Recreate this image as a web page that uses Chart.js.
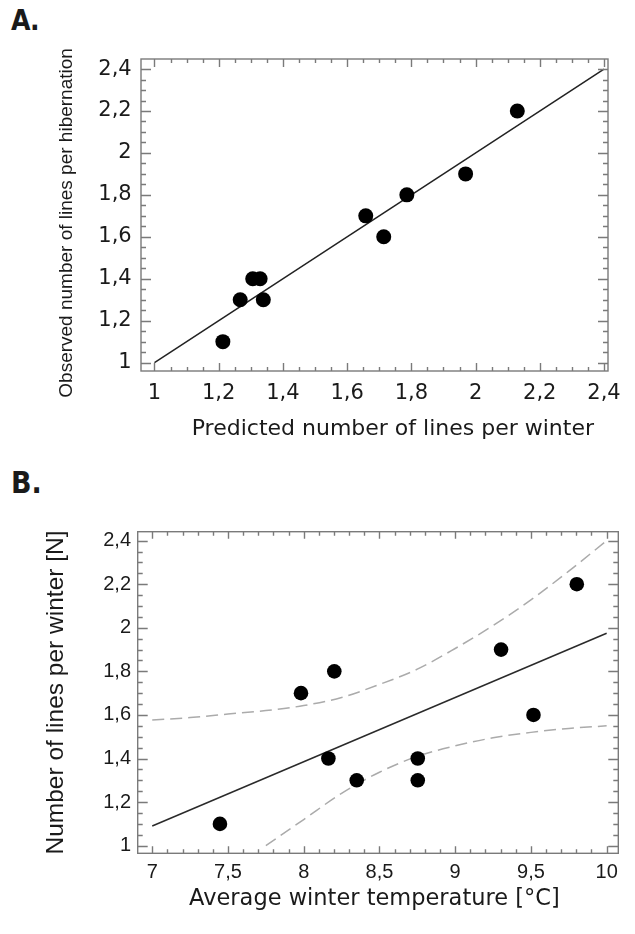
<!DOCTYPE html>
<html>
<head>
<meta charset="utf-8">
<script src="https://cdn.jsdelivr.net/npm/chart.js@4.4.0/dist/chart.umd.min.js"></script>
<style>
  body { margin: 0; background: #fff; width: 635px; height: 934px; position: relative; overflow: hidden; }
  .panel { position: absolute; left: 0; width: 635px; }
  .label { position: absolute; font-family: "DejaVu Sans Condensed", "DejaVu Sans", sans-serif; font-weight: bold; color: #1a1a1a; }
</style>
</head>
<body>
<div class="label" style="left:11px; top:6.7px; font-size:28px; line-height:28px; letter-spacing:-1px;">A.</div>
<div class="panel" style="top:0; height:440px;"><canvas id="chartA" width="635" height="440"></canvas></div>
<div class="label" style="left:11px; top:468px; font-size:30px; line-height:30px;">B.</div>
<div class="panel" style="top:440px; height:494px;"><canvas id="chartB" width="635" height="494"></canvas></div>
<script>
// panel A: predicted vs observed
const aX = [1.213, 1.267, 1.306, 1.329, 1.339, 1.658, 1.714, 1.786, 1.969, 2.13];
const aY = [1.1, 1.3, 1.4, 1.4, 1.3, 1.7, 1.6, 1.8, 1.9, 2.2];
const aFitX = [1, 2.4];
const aFitY = [1, 2.4];
const aTicks = [1, 1.2, 1.4, 1.6, 1.8, 2, 2.2, 2.4];
const aTickLabels = ["1", "1,2", "1,4", "1,6", "1,8", "2", "2,2", "2,4"];

// panel B: temperature vs lines
const bX = [7.447, 7.982, 8.202, 8.163, 8.35, 8.753, 8.753, 9.303, 9.517, 9.803];
const bY = [1.1, 1.7, 1.8, 1.4, 1.3, 1.4, 1.3, 1.9, 1.6, 2.2];
const bFitX = [7, 10];
const bFitY = [1.09, 1.975];
const bUpperX = [7, 7.25, 7.5, 7.75, 8, 8.25, 8.5, 8.75, 9, 9.25, 9.5, 9.75, 10];
const bUpperY = [1.577, 1.588, 1.604, 1.62, 1.643, 1.68, 1.74, 1.81, 1.905, 2.01, 2.128, 2.26, 2.4];
const bLowerX = [7.75, 8, 8.25, 8.5, 8.75, 9, 9.25, 9.5, 9.75, 10];
const bLowerY = [1.0, 1.12, 1.24, 1.337, 1.41, 1.458, 1.495, 1.52, 1.538, 1.55];
const bXTicks = [7, 7.5, 8, 8.5, 9, 9.5, 10];
const bXTickLabels = ["7", "7,5", "8", "8,5", "9", "9,5", "10"];
const bYTicks = [1, 1.2, 1.4, 1.6, 1.8, 2, 2.2, 2.4];
const bYTickLabels = ["1", "1,2", "1,4", "1,6", "1,8", "2", "2,2", "2,4"];

const toPoints = (xs, ys) => xs.map((x, i) => ({ x: x, y: ys[i] }));

const textColor = "#1a1a1a";
const sans = '"Liberation Sans", Arial, sans-serif';
const wide = '"DejaVu Sans", sans-serif';
const noGrid = { display: false, drawTicks: false, tickLength: 0 };

// box round the plot with inward ticks on all four sides
const frameTicks = {
  id: "frameTicks",
  afterDatasetsDraw(chart, args, opts) {
    const { ctx, chartArea: a, scales } = chart;
    ctx.save();
    ctx.strokeStyle = opts.color;
    ctx.lineWidth = opts.width;
    ctx.beginPath();
    const xs = scales.x, ys = scales.y;
    const xMaj = xs.ticks.map((t) => t.value);
    const yMaj = ys.ticks.map((t) => t.value);
    const steps = (majors, step) => {
      const out = [];
      const n = Math.round((majors[majors.length - 1] - majors[0]) / step);
      for (let i = 0; i <= n; i++) out.push(majors[0] + i * step);
      return out;
    };
    steps(xMaj, opts.xMinor).forEach((v) => {
      const major = xMaj.some((m) => Math.abs(m - v) < 1e-6);
      const len = major ? opts.xMajorLen : opts.xMinorLen;
      const px = Math.round(xs.getPixelForValue(v)) + 0.5;
      ctx.moveTo(px, a.bottom); ctx.lineTo(px, a.bottom - len);
      ctx.moveTo(px, a.top); ctx.lineTo(px, a.top + len);
    });
    steps(yMaj, opts.yMinor).forEach((v) => {
      const major = yMaj.some((m) => Math.abs(m - v) < 1e-6);
      const len = major ? opts.yMajorLen : opts.yMinorLen;
      const py = Math.round(ys.getPixelForValue(v)) + 0.5;
      ctx.moveTo(a.left, py); ctx.lineTo(a.left + len, py);
      ctx.moveTo(a.right, py); ctx.lineTo(a.right - len, py);
    });
    ctx.stroke();
    ctx.strokeRect(a.left, a.top, a.right - a.left, a.bottom - a.top);
    ctx.restore();
  },
};

const baseOptions = (pad) => ({
  responsive: false,
  animation: false,
  devicePixelRatio: 1,
  layout: { padding: pad },
});

const chartA = new Chart(document.getElementById("chartA"), {
  type: "scatter",
  data: {
    datasets: [
      { data: toPoints(aX, aY), pointRadius: 7.5, pointBackgroundColor: "#000", pointBorderWidth: 0, order: 0 },
      { data: toPoints(aFitX, aFitY), showLine: true, pointRadius: 0, borderColor: "#222", borderWidth: 1.5, order: 1 },
    ],
  },
  options: {
    ...baseOptions({ top: 59, right: 27, left: 0, bottom: 0 }),
    plugins: {
      legend: { display: false },
      tooltip: { enabled: false },
      frameTicks: { color: "#7a7a7a", width: 1.4, xMinor: 0.05, yMinor: 0.05, xMajorLen: 8, xMinorLen: 4, yMajorLen: 10, yMinorLen: 5 },
    },
    scales: {
      x: {
        type: "linear", min: 0.958, max: 2.4125,
        grid: noGrid, border: { display: false },
        afterBuildTicks: (s) => { s.ticks = aTicks.map((v) => ({ value: v })); },
        afterFit: (s) => { s.height = 69; },
        ticks: { autoSkip: false, maxRotation: 0, padding: 11.8, color: textColor,
          font: { family: wide, size: 21, lineHeight: 1 },
          callback: (v, i) => aTickLabels[i] },
        title: { display: true, text: "Predicted number of lines per winter  ", align: "end", color: textColor,
          font: { family: wide, size: 22, lineHeight: 1 }, padding: { top: 0, bottom: 0 } },
      },
      y: {
        type: "linear", min: 0.96, max: 2.448,
        grid: noGrid, border: { display: false },
        afterBuildTicks: (s) => { s.ticks = aTicks.map((v) => ({ value: v })); },
        afterFit: (s) => { s.width = 141; },
        ticks: { autoSkip: false, padding: 9.3, color: textColor,
          font: { family: wide, size: 21, lineHeight: 1 },
          callback: (v, i) => aTickLabels[i] },
        title: { display: true, text: "Observed number of lines per hibernation   ", color: textColor,
          font: { family: sans, size: 19, lineHeight: 1 }, padding: { top: 57.2, bottom: 0 } },
      },
    },
  },
  plugins: [frameTicks],
});

const chartB = new Chart(document.getElementById("chartB"), {
  type: "scatter",
  data: {
    datasets: [
      { data: toPoints(bX, bY), pointRadius: 7.3, pointBackgroundColor: "#000", pointBorderWidth: 0, order: 0 },
      { data: toPoints(bFitX, bFitY), showLine: true, pointRadius: 0, borderColor: "#2a2a2a", borderWidth: 1.5, order: 1 },
      { data: toPoints(bUpperX, bUpperY), showLine: true, pointRadius: 0, borderColor: "#ababab", borderWidth: 1.5,
        borderDash: [12, 6], tension: 0.4, cubicInterpolationMode: "monotone", order: 2 },
      { data: toPoints(bLowerX, bLowerY), showLine: true, pointRadius: 0, borderColor: "#ababab", borderWidth: 1.5,
        borderDash: [12, 6], tension: 0.4, cubicInterpolationMode: "monotone", order: 2 },
    ],
  },
  options: {
    ...baseOptions({ top: 91.7, right: 16.7, left: 0, bottom: 0 }),
    plugins: {
      legend: { display: false },
      tooltip: { enabled: false },
      frameTicks: { color: "#7a7a7a", width: 1.4, xMinor: 0.1, yMinor: 0.05, xMajorLen: 7, xMinorLen: 4, yMajorLen: 10, yMinorLen: 5 },
    },
    scales: {
      x: {
        type: "linear", min: 6.904, max: 10.077,
        grid: noGrid, border: { display: false },
        afterBuildTicks: (s) => { s.ticks = bXTicks.map((v) => ({ value: v })); },
        afterFit: (s) => { s.height = 80.7; },
        ticks: { autoSkip: false, maxRotation: 0, padding: 9.2, color: textColor,
          font: { family: sans, size: 20, lineHeight: 1 },
          callback: (v, i) => bXTickLabels[i] },
        title: { display: true, text: "Average winter temperature [°C] ", color: textColor,
          font: { family: wide, size: 22.5, lineHeight: 1 }, padding: { top: 0, bottom: 24 } },
      },
      y: {
        type: "linear", min: 0.965, max: 2.441,
        grid: noGrid, border: { display: false },
        afterBuildTicks: (s) => { s.ticks = bYTicks.map((v) => ({ value: v })); },
        afterFit: (s) => { s.width = 137.7; },
        ticks: { autoSkip: false, padding: 6.7, color: textColor,
          font: { family: sans, size: 20, lineHeight: 1 },
          callback: (v, i) => bYTickLabels[i] },
        title: { display: true, text: "Number of lines per winter [N]", color: textColor,
          font: { family: sans, size: 24.5, lineHeight: 1 }, padding: { top: 44.25, bottom: 0 } },
      },
    },
  },
  plugins: [frameTicks],
});
</script>
</body>
</html>
